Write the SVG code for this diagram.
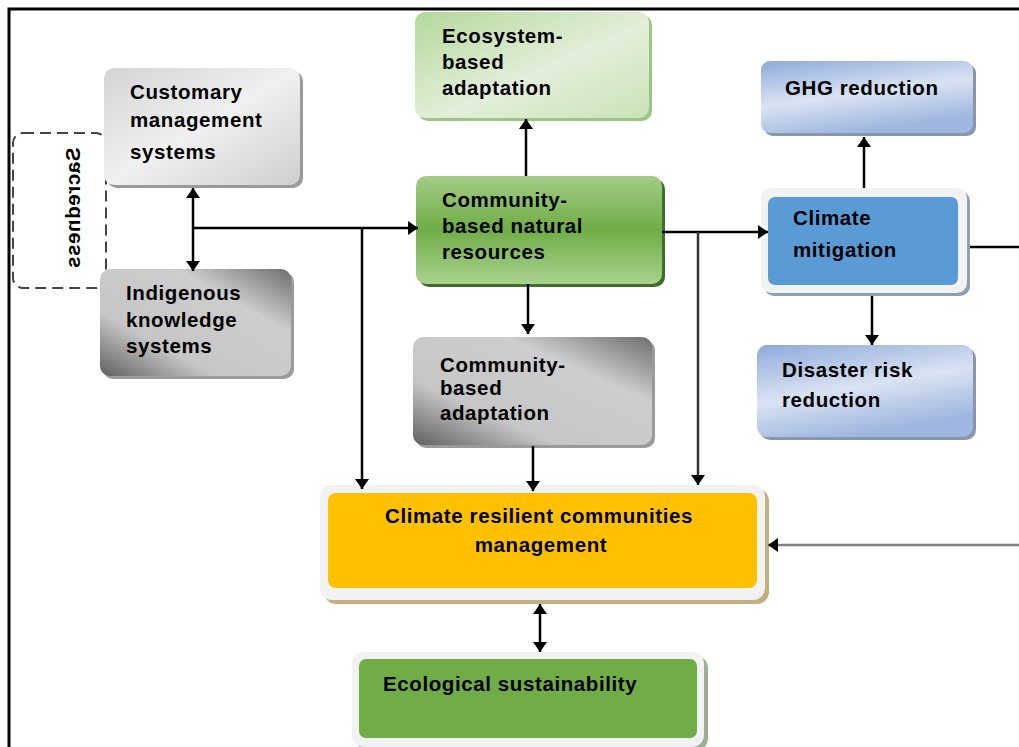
<svg xmlns="http://www.w3.org/2000/svg" width="1019" height="747" viewBox="0 0 1019 747">
  <defs>
    <style>
      .t { font-family: "Liberation Sans", Arial, sans-serif; font-weight: bold; font-size: 20.5px; fill: #000; letter-spacing: 0.6px; }
      .ln { fill: none; stroke-width: 2.5; }
      .shd { fill: #9a9a9a; }
      .frame { fill: #f2f2f2; }
    </style>
    <linearGradient id="gLight" x1="0" y1="0" x2="1" y2="1">
      <stop offset="0" stop-color="#d4d4d4"/>
      <stop offset="0.5" stop-color="#f0f0f0"/>
      <stop offset="1" stop-color="#cfcfcf"/>
    </linearGradient>
    <linearGradient id="gDark" x1="0" y1="1" x2="1" y2="0">
      <stop offset="0" stop-color="#5f5f5f"/>
      <stop offset="0.3" stop-color="#c6c6c6"/>
      <stop offset="0.7" stop-color="#cdcdcd"/>
      <stop offset="1" stop-color="#6e6e6e"/>
    </linearGradient>
    <linearGradient id="gEco" x1="0" y1="0" x2="1" y2="1">
      <stop offset="0" stop-color="#b4d89b"/>
      <stop offset="0.55" stop-color="#e3efda"/>
      <stop offset="1" stop-color="#c9e3b7"/>
    </linearGradient>
    <linearGradient id="gGreen" x1="0" y1="0" x2="0" y2="1">
      <stop offset="0" stop-color="#a3cd86"/>
      <stop offset="0.5" stop-color="#70ad47"/>
      <stop offset="1" stop-color="#a9d28e"/>
    </linearGradient>
    <linearGradient id="gBlue" x1="0" y1="0" x2="0.4" y2="1">
      <stop offset="0" stop-color="#8eaadb"/>
      <stop offset="0.55" stop-color="#dae3f3"/>
      <stop offset="1" stop-color="#9fb7e0"/>
    </linearGradient>
    <marker id="ah" viewBox="0 0 10 14" refX="10" refY="7" markerWidth="10" markerHeight="14" markerUnits="userSpaceOnUse" orient="auto-start-reverse">
      <path d="M0,0 L10,7 L0,14 z" fill="#000"/>
    </marker>
  </defs>

  <rect width="1019" height="747" fill="#fff"/>
  <!-- outer frame (top and left edges) -->
  <path d="M9,747 V9 H1019" fill="none" stroke="#000" stroke-width="3"/>

  <!-- Sacredness (dashed, partly behind the left-hand boxes) -->
  <g id="sacredness">
    <rect x="13" y="133" width="93" height="155" rx="10" fill="#fff" stroke="#444" stroke-width="2" stroke-dasharray="11,6"/>
    <text class="t" transform="translate(80,208) rotate(90) scale(1,-1)" text-anchor="middle">Sacredness</text>
  </g>

  <g id="customary">
    <rect class="shd" x="107" y="71" width="196" height="117" rx="10"/>
    <rect x="104" y="68" width="196" height="117" rx="10" fill="url(#gLight)"/>
    <text class="t" x="130" y="99">Customary</text>
    <text class="t" x="130" y="127">management</text>
    <text class="t" x="130" y="159">systems</text>
  </g>

  <g id="indigenous">
    <rect class="shd" x="103" y="272" width="191" height="107" rx="10"/>
    <rect x="100" y="269" width="191" height="107" rx="10" fill="url(#gDark)"/>
    <text class="t" x="126" y="300">Indigenous</text>
    <text class="t" x="126" y="327">knowledge</text>
    <text class="t" x="126" y="353">systems</text>
  </g>

  <g id="ecosystem">
    <rect x="418" y="15" width="234" height="106" rx="10" fill="#9cc583"/>
    <rect x="415" y="12" width="234" height="106" rx="10" fill="url(#gEco)"/>
    <text class="t" x="442" y="43">Ecosystem-</text>
    <text class="t" x="442" y="69">based</text>
    <text class="t" x="442" y="95">adaptation</text>
  </g>

  <g id="cbnr">
    <rect x="419" y="179" width="246" height="108" rx="10" fill="#3f6f2a"/>
    <rect x="416" y="176" width="246" height="108" rx="10" fill="url(#gGreen)"/>
    <text class="t" x="442" y="207">Community-</text>
    <text class="t" x="442" y="233">based natural</text>
    <text class="t" x="442" y="259">resources</text>
  </g>

  <g id="cba">
    <rect class="shd" x="416" y="340" width="239" height="108" rx="10"/>
    <rect x="413" y="337" width="239" height="108" rx="10" fill="url(#gDark)"/>
    <text class="t" x="440" y="372">Community-</text>
    <text class="t" x="440" y="395">based</text>
    <text class="t" x="440" y="420">adaptation</text>
  </g>

  <g id="ghg">
    <rect x="764" y="64" width="212" height="72" rx="9" fill="#8a97ab"/>
    <rect x="761" y="61" width="212" height="72" rx="9" fill="url(#gBlue)"/>
    <text class="t" x="785" y="95">GHG reduction</text>
  </g>

  <g id="mitigation">
    <rect x="764" y="191" width="206" height="105" rx="10" fill="#8aa0b5"/>
    <rect class="frame" x="761" y="188" width="206" height="105" rx="10"/>
    <rect x="768" y="197" width="190" height="88" rx="7" fill="#5b9bd5"/>
    <text class="t" x="793" y="225">Climate</text>
    <text class="t" x="793" y="257">mitigation</text>
  </g>

  <g id="disaster">
    <rect x="760" y="348" width="216" height="92" rx="10" fill="#8a97ab"/>
    <rect x="757" y="345" width="216" height="92" rx="10" fill="url(#gBlue)"/>
    <text class="t" x="782" y="377">Disaster risk</text>
    <text class="t" x="782" y="407">reduction</text>
  </g>

  <g id="resilient">
    <rect x="324" y="489" width="445" height="115" rx="12" fill="#c2b17e"/>
    <rect class="frame" x="320" y="485" width="445" height="115" rx="12"/>
    <rect x="328" y="493" width="429" height="95" rx="8" fill="#ffc000"/>
    <text class="t" x="539" y="523" text-anchor="middle">Climate resilient communities</text>
    <text class="t" x="541" y="552" text-anchor="middle">management</text>
  </g>

  <g id="ecological">
    <rect x="356" y="656" width="352" height="95" rx="12" fill="#9fae94"/>
    <rect class="frame" x="352" y="652" width="352" height="95" rx="12"/>
    <rect x="359" y="659" width="338" height="79" rx="7" fill="#70ad47"/>
    <text class="t" x="383" y="691">Ecological sustainability</text>
  </g>

  <!-- connectors -->
  <g id="connectors" stroke="#000">
    <line class="ln" x1="193" y1="188" x2="193" y2="271" marker-start="url(#ah)" marker-end="url(#ah)"/>
    <line class="ln" x1="193" y1="228" x2="418" y2="228" marker-end="url(#ah)"/>
    <line class="ln" x1="362" y1="228" x2="362" y2="489" marker-end="url(#ah)"/>
    <line class="ln" x1="526" y1="176" x2="526" y2="119" marker-end="url(#ah)"/>
    <line class="ln" x1="528" y1="284" x2="528" y2="334" marker-end="url(#ah)"/>
    <line class="ln" x1="533" y1="446" x2="533" y2="491" marker-end="url(#ah)"/>
    <line class="ln" x1="662" y1="232" x2="768" y2="232" marker-end="url(#ah)"/>
    <line class="ln" x1="698" y1="232" x2="698" y2="485" stroke="#333" marker-end="url(#ah)"/>
    <line class="ln" x1="864" y1="188" x2="864" y2="137" marker-end="url(#ah)"/>
    <line class="ln" x1="872" y1="296" x2="872" y2="345" marker-end="url(#ah)"/>
    <line class="ln" x1="970" y1="247" x2="1019" y2="247"/>
    <line class="ln" x1="1019" y1="545" x2="768" y2="545" stroke="#808080" stroke-width="3" marker-end="url(#ah)"/>
    <line class="ln" x1="540" y1="604" x2="540" y2="652" marker-start="url(#ah)" marker-end="url(#ah)"/>
  </g>
</svg>
